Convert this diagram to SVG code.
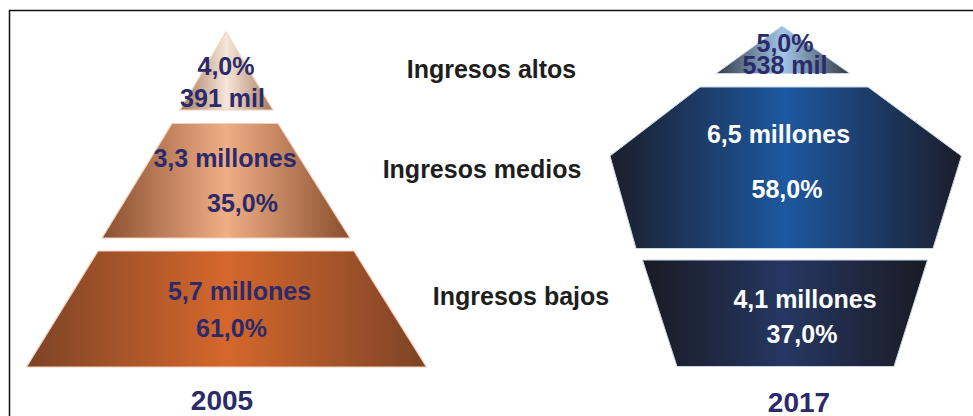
<svg xmlns="http://www.w3.org/2000/svg" width="973" height="416" viewBox="0 0 973 416">
<defs>
<linearGradient id="gTop05" x1="0" y1="0" x2="1" y2="0">
<stop offset="0" stop-color="#a57a5e"/><stop offset="0.5" stop-color="#f7e6d9"/><stop offset="1" stop-color="#a57a5e"/>
</linearGradient>
<linearGradient id="gMid05" x1="0" y1="0" x2="1" y2="0">
<stop offset="0" stop-color="#8a4f30"/><stop offset="0.5" stop-color="#efae85"/><stop offset="1" stop-color="#8a4f30"/>
</linearGradient>
<linearGradient id="gBot05" x1="0" y1="0" x2="1" y2="0">
<stop offset="0" stop-color="#7c4326"/><stop offset="0.5" stop-color="#d5672c"/><stop offset="1" stop-color="#7c4326"/>
</linearGradient>
<linearGradient id="gTop17" x1="0" y1="0" x2="1" y2="0">
<stop offset="0" stop-color="#323a46"/><stop offset="0.5" stop-color="#a2c6e8"/><stop offset="1" stop-color="#323a46"/>
</linearGradient>
<linearGradient id="gMid17" x1="0" y1="0" x2="1" y2="0">
<stop offset="0" stop-color="#1c1d2a"/><stop offset="0.5" stop-color="#1d58a0"/><stop offset="1" stop-color="#1c1d2a"/>
</linearGradient>
<linearGradient id="gBot17" x1="0" y1="0" x2="1" y2="0">
<stop offset="0" stop-color="#1a1a24"/><stop offset="0.5" stop-color="#253762"/><stop offset="1" stop-color="#1a1a24"/>
</linearGradient>
</defs>
<style>
text{font-family:"Liberation Sans",Arial,sans-serif;font-weight:bold;text-anchor:middle;}
.v{font-size:25px;fill:#2b2a6b;}
.w{font-size:25px;fill:#ffffff;}
.lab{font-size:25px;fill:#1e1e1e;}
.yr{font-size:28px;fill:#2b2a6b;}
.s05{stroke:#f3d2bd;stroke-width:1.2;}
.s17{stroke:#c9d6e6;stroke-width:1;}
</style>
<rect width="973" height="416" fill="#ffffff"/>
<g id="frame"><path d="M9.5 416 V10.5 H973" fill="none" stroke="#111111" stroke-width="1.5"/></g>

<g id="top2005"><polygon class="s05" points="226,32 273,110 180,110" fill="url(#gTop05)"/>
<text class="v" x="226" y="75">4,0%</text><text class="v" x="222.5" y="107">391 mil</text></g>
<g id="mid2005"><polygon class="s05" points="172,123.5 278,123.5 350,238 102,238" fill="url(#gMid05)"/>
<text class="v" x="225" y="167">3,3 millones</text><text class="v" x="242.5" y="212">35,0%</text></g>
<g id="bot2005"><polygon class="s05" points="98,251 354,251 426.5,367 26.5,367" fill="url(#gBot05)"/>
<text class="v" x="239.5" y="300">5,7 millones</text><text class="v" x="231.5" y="337">61,0%</text></g>
<text id="y2005" class="yr" x="222" y="410">2005</text>

<g id="labels">
<text class="lab" x="491.5" y="78">Ingresos altos</text>
<text class="lab" x="482" y="178">Ingresos medios</text>
<text class="lab" x="521" y="305">Ingresos bajos</text>
</g>

<g id="top2017"><polygon class="s17" points="782,26 850,73.5 716,73.5" fill="url(#gTop17)"/>
<text class="v" x="785" y="52">5,0%</text><text class="v" x="785" y="74">538 mil</text></g>
<g id="mid2017"><polygon class="s17" points="700,87 868,87 961.5,156 933,248.5 636,248.5 610,156" fill="url(#gMid17)"/>
<text class="w" x="778.5" y="143">6,5 millones</text><text class="w" x="787" y="198">58,0%</text></g>
<g id="bot2017"><polygon class="s17" points="642.5,260 927.5,260 894,366.5 677,366.5" fill="url(#gBot17)"/>
<text class="w" x="805" y="308">4,1 millones</text><text class="w" x="802" y="343">37,0%</text></g>
<text id="y2017" class="yr" x="799" y="411.5">2017</text>
</svg>
